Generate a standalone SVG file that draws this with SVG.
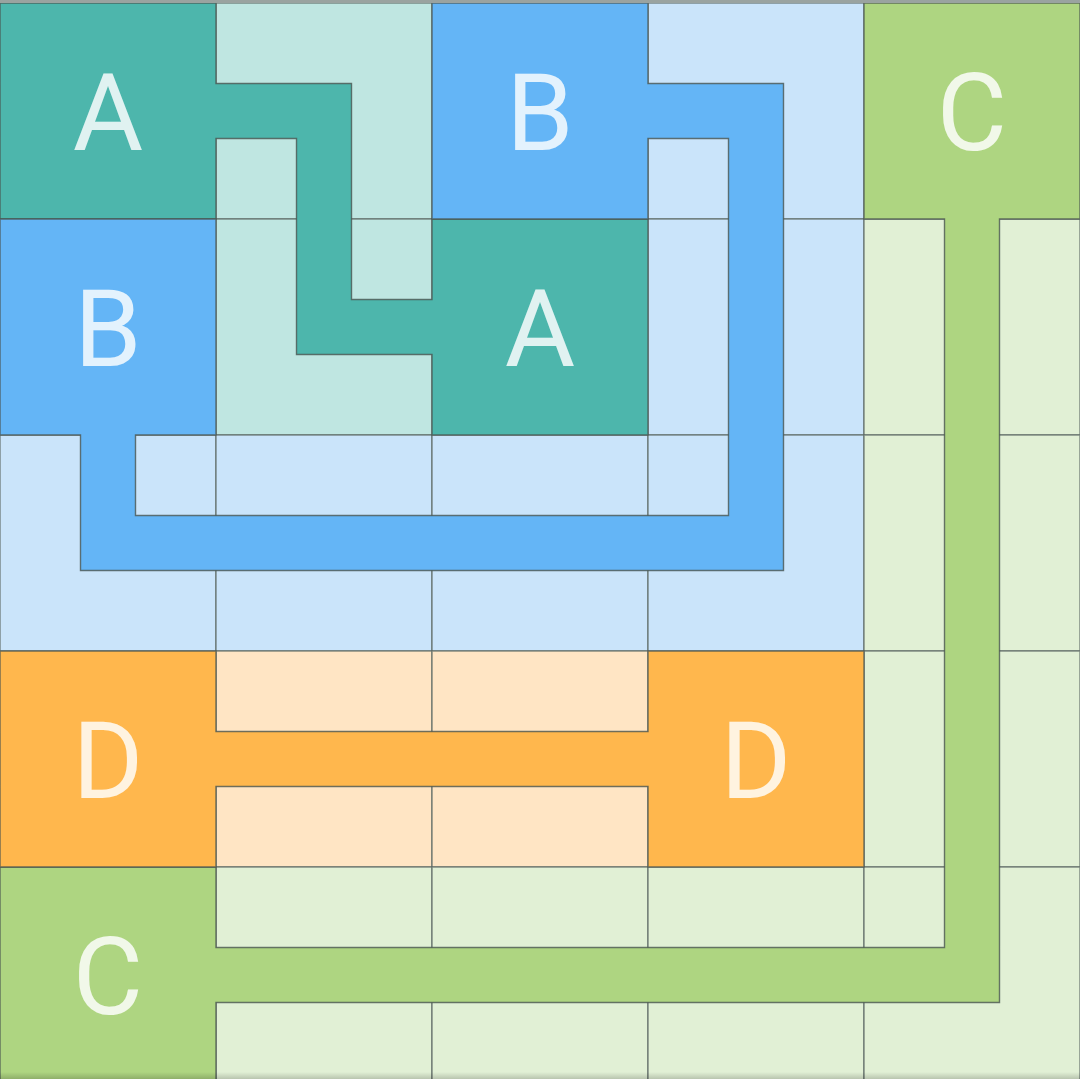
<svg xmlns="http://www.w3.org/2000/svg" width="1080" height="1079" viewBox="0 0 1080 1079">
<defs>
<style>
.cell{stroke:#5f6b66;stroke-width:1.4;stroke-opacity:0.8}
.pipe{stroke:#4a5550;stroke-width:1.4;stroke-opacity:0.8;stroke-linejoin:miter}
.lt{fill:#BFE6E1}.lb{fill:#CAE4FA}.lg{fill:#E1F0D5}.lo{fill:#FFE5C4}
.t{fill:#4DB6AC}.b{fill:#64B5F6}.g{fill:#AED581}.o{fill:#FFB74D}
.lbl{font-family:Roboto,"Liberation Sans",sans-serif;font-size:108px;text-anchor:middle}
</style>
<linearGradient id="shade" x1="0" y1="0" x2="0" y2="1">
<stop offset="0" stop-color="#000" stop-opacity="0"/>
<stop offset="1" stop-color="#000" stop-opacity="0.18"/>
</linearGradient>
</defs>
<rect x="0" y="0" width="1080" height="1079" fill="#E1F0D5"/>
<g id="cells">
<rect class="cell lt" x="216" y="3" width="216" height="216"/>
<rect class="cell lb" x="648" y="3" width="216" height="216"/>
<rect class="cell lt" x="216" y="219" width="216" height="216"/>
<rect class="cell lb" x="648" y="219" width="216" height="216"/>
<rect class="cell lg" x="864" y="219" width="216" height="216"/>
<rect class="cell lb" x="0" y="435" width="216" height="216"/>
<rect class="cell lb" x="216" y="435" width="216" height="216"/>
<rect class="cell lb" x="432" y="435" width="216" height="216"/>
<rect class="cell lb" x="648" y="435" width="216" height="216"/>
<rect class="cell lg" x="864" y="435" width="216" height="216"/>
<rect class="cell lo" x="216" y="651" width="216" height="216"/>
<rect class="cell lo" x="432" y="651" width="216" height="216"/>
<rect class="cell lg" x="864" y="651" width="216" height="216"/>
<rect class="cell lg" x="216" y="867" width="216" height="216"/>
<rect class="cell lg" x="432" y="867" width="216" height="216"/>
<rect class="cell lg" x="648" y="867" width="216" height="216"/>
<rect class="cell lg" x="864" y="867" width="216" height="216"/>
</g>
<g id="connectors">
<polygon id="pipeA" class="pipe t" points="0,3 216,3 216,83.5 351.5,83.5 351.5,299.5 432,299.5 432,219 648,219 648,435 432,435 432,354.5 296.5,354.5 296.5,138.5 216,138.5 216,219 0,219"/>
<polygon id="pipeB" class="pipe b" points="432,3 648,3 648,83.5 783.5,83.5 783.5,570.5 80.5,570.5 80.5,435 0,435 0,219 216,219 216,435 135.5,435 135.5,515.5 728.5,515.5 728.5,138.5 648,138.5 648,219 432,219"/>
<polygon id="pipeC" class="pipe g" points="864,3 1080,3 1080,219 999.5,219 999.5,1002.5 216,1002.5 216,1083 0,1083 0,867 216,867 216,947.5 944.5,947.5 944.5,219 864,219"/>
<polygon id="pipeD" class="pipe o" points="0,651 216,651 216,731.5 648,731.5 648,651 864,651 864,867 648,867 648,786.5 216,786.5 216,867 0,867"/>
</g>
<g id="node-A1"><text class="lbl" x="108" y="150" fill="#E0F2F1">A</text></g>
<g id="node-B1"><text class="lbl" x="540" y="150" fill="#E3F2FD">B</text></g>
<g id="node-C1"><text class="lbl" x="972" y="150" fill="#F1F8E9">C</text></g>
<g id="node-B2"><text class="lbl" x="108" y="366" fill="#E3F2FD">B</text></g>
<g id="node-A2"><text class="lbl" x="540" y="366" fill="#E0F2F1">A</text></g>
<g id="node-D1"><text class="lbl" x="108" y="798" fill="#FFF3E0">D</text></g>
<g id="node-D2"><text class="lbl" x="756" y="798" fill="#FFF3E0">D</text></g>
<g id="node-C2"><text class="lbl" x="108" y="1014" fill="#F1F8E9">C</text></g>
<rect x="0" y="0" width="1080" height="3" fill="#9aa3a0"/>
<rect x="0" y="1072" width="1080" height="7" fill="url(#shade)"/>
</svg>
